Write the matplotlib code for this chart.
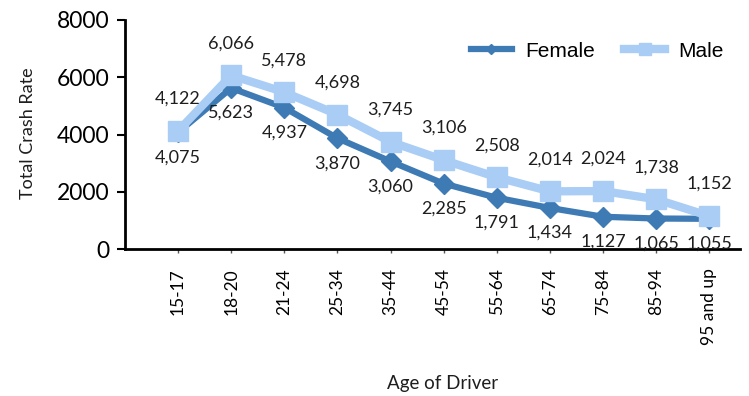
import matplotlib.pyplot as plt

# crash rate per driver age group, split by sex
age_groups = ["15-17", "18-20", "21-24", "25-34", "35-44", "45-54",
              "55-64", "65-74", "75-84", "85-94", "95 and up"]
female = [4075, 5623, 4937, 3870, 3060, 2285, 1791, 1434, 1127, 1065, 1055]
male = [4122, 6066, 5478, 4698, 3745, 3106, 2508, 2014, 2024, 1738, 1152]

female_color = "#3e7ab4"
male_color = "#aacdf5"
label_font = "Lato"


def main():
    fig = plt.figure(figsize=(7.49, 3.96), dpi=100)
    ax = fig.add_axes([125 / 749, (396 - 249) / 396, 615 / 749, 229 / 396])

    x = list(range(len(age_groups)))
    ax.plot(x, female, color=female_color, lw=4.5, marker="D", ms=10,
            label="Female", zorder=3)
    ax.plot(x, male, color=male_color, lw=6, marker="s", ms=14.5,
            label="Male", zorder=4)

    # value labels: male above the line, female below
    for xi, v in zip(x, male):
        ax.annotate(f"{v:,}", (xi, v), xytext=(0, 32), textcoords="offset pixels",
                    ha="center", va="center", fontsize=13, family=label_font,
                    color="#1e1e1e", zorder=5)
    for xi, v in zip(x, female):
        ax.annotate(f"{v:,}", (xi, v), xytext=(0, -25), textcoords="offset pixels",
                    ha="center", va="center", fontsize=13, family=label_font,
                    color="#1e1e1e", zorder=5)

    ax.set_xlim(-1, 10.58)
    ax.set_ylim(0, 8000)
    ax.set_yticks([0, 2000, 4000, 6000, 8000])
    ax.set_xticks(x)
    ax.set_xticklabels(age_groups, rotation=90, fontsize=12.5, family=label_font)
    for t in ax.get_yticklabels():
        t.set_fontsize(16.5)
        t.set_family(label_font)

    ax.tick_params(axis="x", length=3, width=1, pad=11, color="#555555")
    ax.tick_params(axis="y", length=6, width=1.5, pad=5)

    for side in ("top", "right"):
        ax.spines[side].set_visible(False)
    for side in ("left", "bottom"):
        ax.spines[side].set_linewidth(2)

    fig.text(28 / 749, 1 - 133 / 396, "Total Crash Rate", rotation=90,
             ha="center", va="center", fontsize=13, family=label_font,
             color="#1e1e1e")
    fig.text(443 / 749, 1 - 384 / 396, "Age of Driver", ha="center",
             va="center", fontsize=13.5, family=label_font, color="#1e1e1e")

    ax.legend(loc="upper right", bbox_to_anchor=(742 / 749, 1 - 23 / 396),
              bbox_transform=fig.transFigure, ncol=2, frameon=False,
              prop={"family": "Liberation Sans", "size": 15},
              handlelength=2.0, handletextpad=0.6, columnspacing=1.4,
              markerscale=0.55)

    fig.savefig("out.png", dpi=100)


if __name__ == "__main__":
    main()
